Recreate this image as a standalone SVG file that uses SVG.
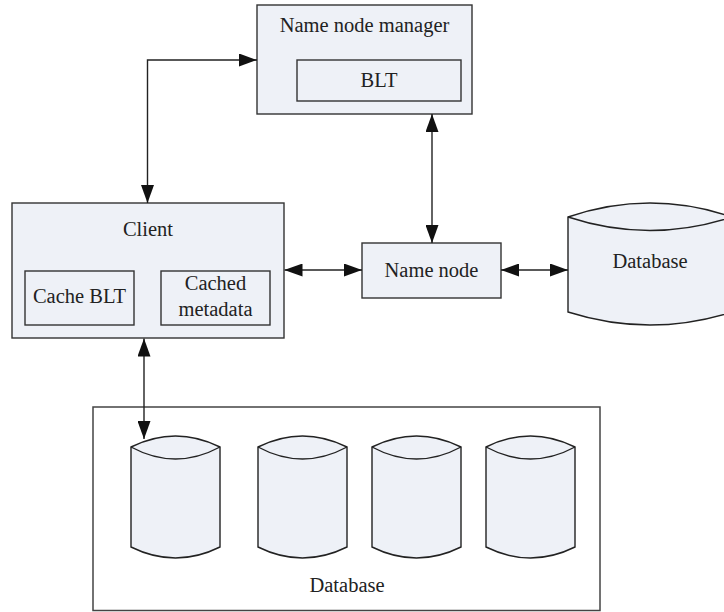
<svg xmlns="http://www.w3.org/2000/svg" width="724" height="612" viewBox="0 0 724 612">
  <style>
    .box { fill: #eef1f7; stroke: #333333; stroke-width: 1.4; }
    .inner { fill: none; stroke: #333333; stroke-width: 1.4; }
    .frame { fill: #ffffff; stroke: #444444; stroke-width: 1.5; }
    .cyl { fill: #eef1f7; stroke: #222222; stroke-width: 1.4; }
    .rim { fill: none; stroke: #222222; stroke-width: 1.4; }
    .lbl { font-family: "Liberation Serif", "DejaVu Serif", serif; font-size: 20.5px; fill: #222222; text-anchor: middle; }
    .conn { fill: none; stroke: #222222; stroke-width: 1.4; }
  </style>
  <defs>
    <marker id="arrow" viewBox="0 0 18 13" refX="18" refY="6.5" markerWidth="18" markerHeight="13" markerUnits="userSpaceOnUse" orient="auto-start-reverse">
      <path d="M0,0 L18,6.5 L0,13 Z" fill="#111111"/>
    </marker>
  </defs>

  <rect width="724" height="612" fill="#ffffff"/>

  <!-- storage frame with four database cylinders -->
  <g id="storage">
    <rect class="frame" x="93" y="407" width="507" height="203.5"/>
    <g id="db1">
      <path class="cyl" d="M131,447 Q175.5,425 220,447 L220,547 Q175.5,569 131,547 Z"/>
      <path class="rim" d="M131,447 Q175.5,471 220,447"/>
    </g>
    <g id="db2">
      <path class="cyl" d="M258,447 Q302.5,425 347,447 L347,547 Q302.5,569 258,547 Z"/>
      <path class="rim" d="M258,447 Q302.5,471 347,447"/>
    </g>
    <g id="db3">
      <path class="cyl" d="M372,447 Q416.5,425 461,447 L461,547 Q416.5,569 372,547 Z"/>
      <path class="rim" d="M372,447 Q416.5,471 461,447"/>
    </g>
    <g id="db4">
      <path class="cyl" d="M486,447 Q530.5,425 575,447 L575,547 Q530.5,569 486,547 Z"/>
      <path class="rim" d="M486,447 Q530.5,471 575,447"/>
    </g>
    <text class="lbl" x="347" y="592">Database</text>
  </g>

  <!-- name node manager -->
  <g id="manager">
    <rect class="box" x="257" y="5" width="215" height="109"/>
    <text class="lbl" x="364.5" y="32">Name node manager</text>
    <rect class="inner" x="297" y="60" width="164" height="41"/>
    <text class="lbl" x="379" y="87">BLT</text>
  </g>

  <!-- client -->
  <g id="client">
    <rect class="box" x="12" y="203" width="272" height="135"/>
    <text class="lbl" x="148" y="236">Client</text>
    <rect class="inner" x="25" y="271" width="109" height="54"/>
    <text class="lbl" x="79.5" y="303">Cache BLT</text>
    <rect class="inner" x="161" y="271" width="109" height="54"/>
    <text class="lbl" x="215.5" y="290">Cached</text>
    <text class="lbl" x="215.5" y="316">metadata</text>
  </g>

  <!-- name node -->
  <g id="namenode">
    <rect class="box" x="362" y="243" width="139" height="55"/>
    <text class="lbl" x="431.5" y="277">Name node</text>
  </g>

  <!-- metadata database -->
  <g id="metadb">
    <path class="cyl" d="M568,217 Q650,189 732,217 L732,312 Q650,338 568,312 Z"/>
    <path class="rim" d="M568,217 Q650,244 732,217"/>
    <text class="lbl" x="650" y="268">Database</text>
  </g>

  <!-- connectors -->
  <g id="connectors">
    <path class="conn" d="M147.5,203 L147.5,60 L257,60" marker-start="url(#arrow)" marker-end="url(#arrow)"/>
    <path class="conn" d="M432,114 L432,243" marker-start="url(#arrow)" marker-end="url(#arrow)"/>
    <path class="conn" d="M284.5,270 L362,270" marker-start="url(#arrow)" marker-end="url(#arrow)"/>
    <path class="conn" d="M501,270 L568,270" marker-start="url(#arrow)" marker-end="url(#arrow)"/>
    <path class="conn" d="M144,338.5 L144,439" marker-start="url(#arrow)" marker-end="url(#arrow)"/>
  </g>
</svg>
